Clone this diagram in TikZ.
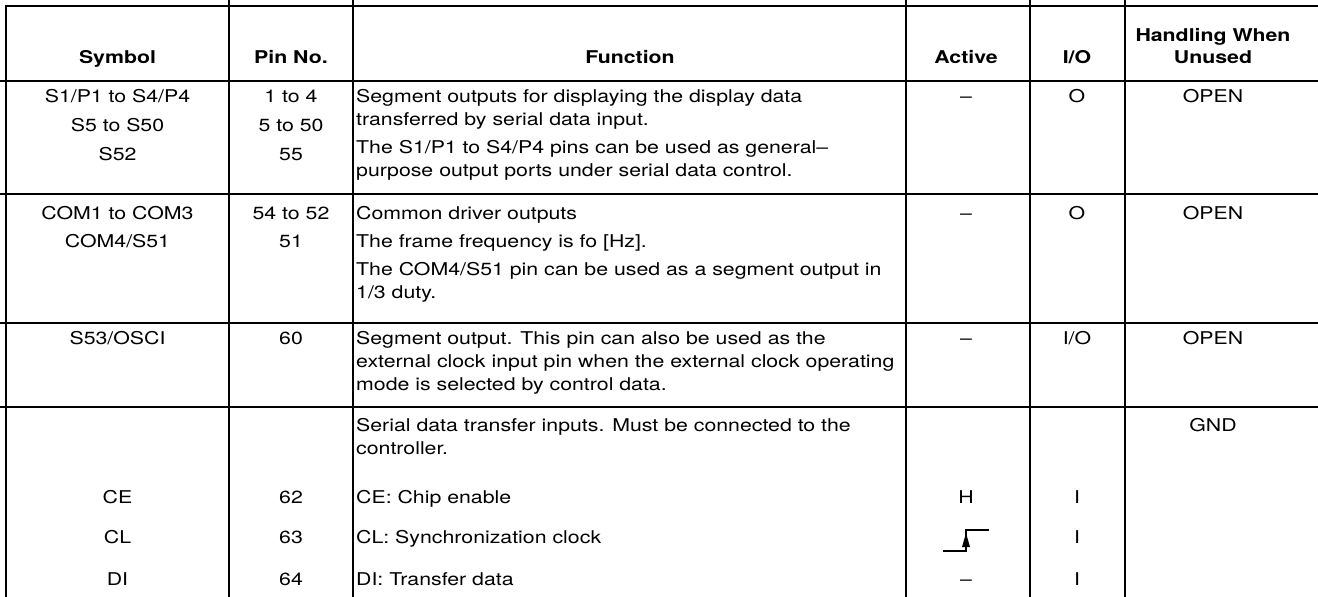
\documentclass[tikz,border=0pt]{standalone}
\usepackage{fontspec}
\setmainfont{TeX Gyre Heros}[FakeStretch=1.21]
\usetikzlibrary{calc}
\begin{document}
\begin{tikzpicture}[x=1pt,y=-1pt,
  grid/.style={line width=2.7pt},
  txt/.style={inner sep=0pt,anchor=base,font=\fontsize{17.6}{20}\selectfont},
  ltxt/.style={txt,anchor=base west},
  hdr/.style={txt,font=\fontsize{17.6}{20}\selectfont\bfseries}]
\useasboundingbox (0,0) rectangle (1318,597);
% grid
\draw[grid] (6,6) -- (1318,6);
\draw[grid] (0,81) -- (1318,81);
\draw[grid] (0,194) -- (1318,194);
\draw[grid] (0,323) -- (1318,323);
\draw[grid] (0,407) -- (1318,407);
\draw[grid] (6,4.65) -- (6,597);
\foreach \x in {229,353,906,1030,1125} \draw[grid] (\x,0) -- (\x,597);
% header
\node[hdr] (h1) at (117.5,63) {Symbol};
\node[hdr] (h2) at (291,63) {Pin No.};
\node[hdr] (h3) at (630,63) {Function};
\node[hdr] (h4) at (966,63) {Active};
\node[hdr] (h5) at (1077,63) {I/O};
\node[hdr] (h6a) at (1213,41) {Handling When};
\node[hdr] (h6b) at (1213,63) {Unused};
% row 1
\node[txt] (s1) at (117.5,102) {S1/P1 to S4/P4};
\node[txt] (s2) at (117.5,131) {S5 to S50};
\node[txt] (s3) at (117.5,160) {S52};
\node[txt] (p1) at (291,102) {1 to 4};
\node[txt] (p2) at (291,131) {5 to 50};
\node[txt] (p3) at (291,160) {55};
\node[ltxt] (f1) at (356,102) {Segment outputs for displaying the display data};
\node[ltxt] (f2) at (356,125) {transferred by serial data input.};
\node[ltxt] (f3) at (356,153) {The S1/P1 to S4/P4 pins can be used as general–};
\node[ltxt] (f4) at (356,176) {purpose output ports under serial data control.};
\node[txt] (a1) at (966,102) {–};
\node[txt] (i1) at (1077,102) {O};
\node[txt] (u1) at (1213,102) {OPEN};
% row 2
\node[txt] (s4) at (117.5,219) {COM1 to COM3};
\node[txt] (s5) at (117.5,247) {COM4/S51};
\node[txt] (p4) at (291,219) {54 to 52};
\node[txt] (p5) at (291,247) {51};
\node[ltxt] (f5) at (356,219) {Common driver outputs};
\node[ltxt] (f6) at (356,247) {The frame frequency is fo [Hz].};
\node[ltxt] (f7) at (356,275) {The COM4/S51 pin can be used as a segment output in};
\node[ltxt] (f8) at (356,298) {1/3 duty.};
\node[txt] (a2) at (966,219) {–};
\node[txt] (i2) at (1077,219) {O};
\node[txt] (u2) at (1213,219) {OPEN};
% row 3
\node[txt] (s6) at (117.5,344) {S53/OSCI};
\node[txt] (p6) at (291,344) {60};
\node[ltxt] (f9) at (356,344) {Segment output. This pin can also be used as the};
\node[ltxt] (f10) at (356,367) {external clock input pin when the external clock operating};
\node[ltxt] (f11) at (356,390) {mode is selected by control data.};
\node[txt] (a3) at (966,344) {–};
\node[txt] (i3) at (1077,344) {I/O};
\node[txt] (u3) at (1213,344) {OPEN};
% row 4
\node[ltxt] (f12) at (356,431) {Serial data transfer inputs. Must be connected to the};
\node[ltxt] (f13) at (356,454) {controller.};
\node[txt] (u4) at (1213,431) {GND};
\node[txt] (s7) at (117.5,503) {CE};
\node[txt] (p7) at (291,503) {62};
\node[ltxt] (f14) at (356,503) {CE: Chip enable};
\node[txt] (a4) at (966,503) {H};
\node[txt] (i4) at (1077,503) {I};
\node[txt] (s8) at (117.5,543) {CL};
\node[txt] (p8) at (291,543) {63};
\node[ltxt] (f15) at (356,543) {CL: Synchronization clock};
\node[txt] (i5) at (1077,543) {I};
\node[txt] (s9) at (117.5,585) {DI};
\node[txt] (p9) at (291,585) {64};
\node[ltxt] (f16) at (356,585) {DI: Transfer data};
\node[txt] (a6) at (966,585) {–};
\node[txt] (i6) at (1077,585) {I};
% clock edge symbol
\coordinate (k1) at (943,551);
\coordinate (k2) at (966,551);
\coordinate (k3) at (966,530);
\coordinate (k4) at (989,530);
\draw[line width=2pt] (k1) -- (k2) -- (k3) -- (k4);
\fill (962,547) -- (970,547) -- (966,533) -- cycle;
\end{tikzpicture}
\end{document}
